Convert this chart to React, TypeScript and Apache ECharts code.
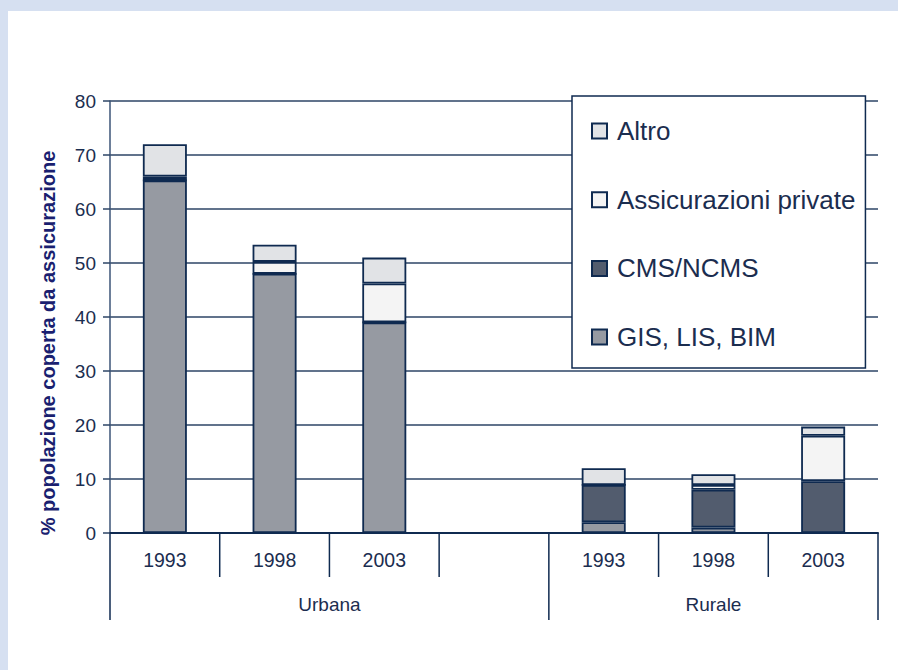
import React, { useEffect, useRef } from "react";
import * as echarts from "echarts";

const categories = ["1993", "1998", "2003", "", "1993", "1998", "2003"];
const groups = ["Urbana", "Rurale"];
const gis = [65.3, 48, 39, null, 2, 1, 0];
const cms = [0, 0, 0, null, 6.9, 7, 9.6];
const privateIns = [0.7, 2.2, 7.2, null, 0, 0.9, 8.4];
const altro = [6, 3.2, 4.8, null, 3.1, 2, 1.7];
const yTicks = [0, 10, 20, 30, 40, 50, 60, 70, 80];

const NAVY = "#0f2a50";
const TEXT = "#1b2d4f";
const FONT = "Liberation Sans, Arial, sans-serif";

export default function App() {
  const ref = useRef<HTMLDivElement>(null);
  useEffect(() => {
    if (!ref.current) return;
    const chart = echarts.init(ref.current, null, { renderer: "svg" });
    const mk = (name: string, data: any[], color: string) => ({
      name,
      type: "bar",
      stack: "s",
      data,
      barWidth: 44,
      itemStyle: { color, borderColor: NAVY, borderWidth: 1.8 },
    });
    const gridLeft = 102;
    const gridRight = 20;
    const gridTop = 90;
    const gridBottom = 137;
    const W = 890;
    const H = 659;
    const plotW = W - gridLeft - gridRight;
    const slot = plotW / categories.length;
    const x0 = gridLeft;
    const yAxisPix = H - gridBottom;
    const boundaryX = (i: number) => x0 + i * slot;
    const graphics: any[] = [];
    [1, 2, 3, 5, 6].forEach((i) =>
      graphics.push({
        type: "line",
        shape: { x1: boundaryX(i), y1: yAxisPix, x2: boundaryX(i), y2: yAxisPix + 44 },
        style: { stroke: NAVY, lineWidth: 1.5 },
      })
    );
    [0, 4, 7].forEach((i) =>
      graphics.push({
        type: "line",
        shape: { x1: boundaryX(i), y1: yAxisPix, x2: boundaryX(i), y2: yAxisPix + 87 },
        style: { stroke: NAVY, lineWidth: 1.5 },
      })
    );
    const groupSpans = [
      [0, 4],
      [4, 7],
    ];
    groups.forEach((g, k) =>
      graphics.push({
        type: "text",
        x: (boundaryX(groupSpans[k][0]) + boundaryX(groupSpans[k][1])) / 2,
        y: yAxisPix + 71,
        style: {
          text: g,
          fill: TEXT,
          font: `19px ${FONT}`,
          align: "center",
          verticalAlign: "middle",
        },
      })
    );
    graphics.push({
      type: "text",
      x: 40,
      y: 332,
      rotation: Math.PI / 2,
      style: {
        text: "% popolazione coperta da assicurazione",
        fill: "#1a1f70",
        font: `bold 20px ${FONT}`,
        align: "center",
        verticalAlign: "middle",
      },
    });
    chart.setOption({
      animation: false,
      backgroundColor: "#ffffff",
      textStyle: { fontFamily: FONT },
      grid: { left: gridLeft, right: gridRight, top: gridTop, bottom: gridBottom },
      legend: {
        orient: "vertical",
        left: 564,
        top: 85,
        data: ["Altro", "Assicurazioni private", "CMS/NCMS", "GIS, LIS, BIM"],
        backgroundColor: "#ffffff",
        borderColor: NAVY,
        borderWidth: 1.5,
        padding: [22, 10, 18, 19],
        itemGap: 42.7,
        itemWidth: 15,
        itemHeight: 15,
        icon: "rect",
        textStyle: {
          fontSize: 26,
          lineHeight: 26,
          color: TEXT,
          fontFamily: FONT,
          padding: [0, 0, 0, 5],
        },
      },
      xAxis: {
        type: "category",
        data: categories,
        axisLine: { lineStyle: { color: NAVY, width: 2 } },
        axisTick: { show: false },
        axisLabel: { color: TEXT, fontSize: 19.5, margin: 17 },
      },
      yAxis: {
        type: "value",
        min: yTicks[0],
        max: yTicks[yTicks.length - 1],
        interval: 10,
        axisLine: { show: true, lineStyle: { color: "#3d5577", width: 1.5 } },
        axisTick: { show: true, inside: false, length: 7, lineStyle: { color: "#2c4466", width: 1.5 } },
        axisLabel: { color: TEXT, fontSize: 19, margin: 14 },
        splitLine: { lineStyle: { color: "#2c4466", width: 1.5 } },
      },
      series: [
        mk("GIS, LIS, BIM", gis, "#969aa2"),
        mk("CMS/NCMS", cms, "#525c6e"),
        mk("Assicurazioni private", privateIns, "#f4f4f4"),
        mk("Altro", altro, "#e1e3e6"),
      ],
      graphic: graphics,
    });
    return () => chart.dispose();
  }, []);
  return (
    <div
      style={{
        position: "fixed",
        left: 0,
        top: 0,
        width: 898,
        height: 670,
        background: "#d6e0f1",
        overflow: "hidden",
      }}
    >
      <div
        ref={ref}
        style={{ position: "absolute", left: 8, top: 11, width: 890, height: 659, background: "#fff" }}
      />
    </div>
  );
}
